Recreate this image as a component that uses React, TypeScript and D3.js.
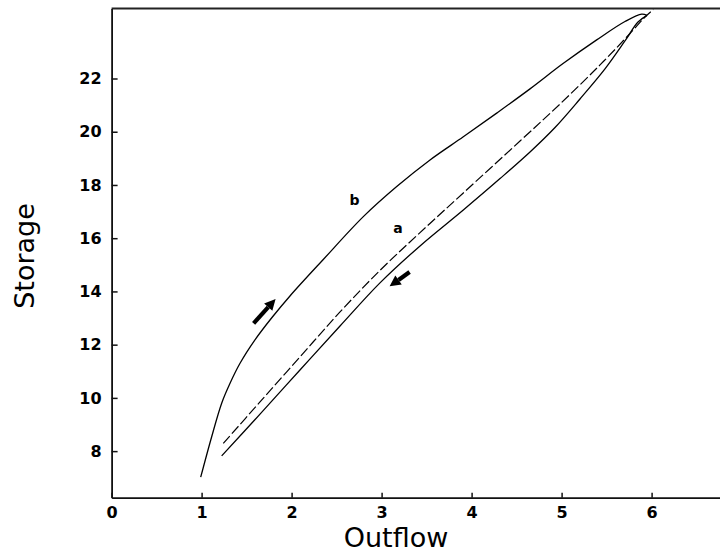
import React, { useEffect, useRef } from "react";
import * as d3 from "d3";

const width = 720;
const height = 555;

// axis ticks
const xTicks = [0, 1, 2, 3, 4, 5, 6];
const yTicks = [8, 10, 12, 14, 16, 18, 20, 22];

// rising limb (b)
const risingX = [0.99, 1.112, 1.223, 1.316, 1.427, 1.593, 1.782, 1.982, 2.352, 2.797, 3.168, 3.538, 3.908, 4.279, 4.649, 5.016, 5.39, 5.704, 5.89, 5.949];
const risingY = [7.02, 8.54, 9.8, 10.55, 11.3, 12.18, 13.02, 13.83, 15.2, 16.81, 17.94, 18.94, 19.81, 20.7, 21.61, 22.56, 23.45, 24.14, 24.42, 24.37];

// falling limb
const fallingX = [5.949, 5.849, 5.704, 5.482, 5.204, 4.927, 4.649, 4.316, 3.908, 3.427, 2.982, 2.538, 2.093, 1.649, 1.223];
const fallingY = [24.37, 24.12, 23.41, 22.36, 21.23, 20.16, 19.24, 18.24, 17.06, 15.71, 14.32, 12.7, 11.05, 9.39, 7.82];

// curve a (dashed)
const curveAX = [1.241, 1.649, 2.093, 2.538, 2.982, 3.427, 3.908, 4.538, 4.982, 5.427, 5.76, 5.927, 6.019];
const curveAY = [8.29, 9.85, 11.54, 13.23, 14.79, 16.21, 17.7, 19.65, 21.04, 22.51, 23.69, 24.31, 24.59];

// curve labels
const labelText = ["b", "a"];
const labelX = [2.7, 3.181];
const labelY = [17.43, 16.37];

// arrows: from -> to
const arrowFromX = [1.578, 3.311];
const arrowFromY = [12.8, 14.73];
const arrowToX = [1.822, 3.089];
const arrowToY = [13.72, 14.19];

const x = d3.scaleLinear().domain([0, 6.76]).range([111.6, 720]);
const y = d3.scaleLinear().domain([6.25, 24.63]).range([497.7, 8.5]);

const line = d3
  .line<[number, number]>()
  .x((d) => x(d[0]))
  .y((d) => y(d[1]))
  .curve(d3.curveCatmullRom.alpha(0.5));

function zip(xs: number[], ys: number[]): [number, number][] {
  return xs.map((v, i) => [v, ys[i]]);
}

function arrowPath(i: number) {
  const x0 = x(arrowFromX[i]), y0 = y(arrowFromY[i]);
  const x1 = x(arrowToX[i]), y1 = y(arrowToY[i]);
  const len = Math.hypot(x1 - x0, y1 - y0);
  const ux = (x1 - x0) / len, uy = (y1 - y0) / len;
  const headLen = 11, half = 5.5;
  const bx = x1 - ux * headLen, by = y1 - uy * headLen;
  const head = `M${x1},${y1}L${bx - uy * half},${by + ux * half}L${bx + uy * half},${by - ux * half}Z`;
  const shaft = `M${x0},${y0}L${bx},${by}`;
  return { head, shaft };
}

export default function App() {
  const xAxisRef = useRef<SVGGElement>(null);
  const yAxisRef = useRef<SVGGElement>(null);

  useEffect(() => {
    const gx = d3.select(xAxisRef.current!);
    gx.call(
      d3.axisBottom(x).tickValues(xTicks).tickFormat(d3.format("d")).tickSizeInner(-5).tickSizeOuter(0).tickPadding(8.5)
    );
    const gy = d3.select(yAxisRef.current!);
    gy.call(
      d3.axisLeft(y).tickValues(yTicks).tickFormat(d3.format("d")).tickSizeInner(-6).tickSizeOuter(0).tickPadding(10)
    );
    [gx, gy].forEach((g) => {
      g.selectAll("path.domain").attr("stroke", "#111").attr("stroke-width", 1.8);
      g.selectAll(".tick line").attr("stroke", "#111").attr("stroke-width", 1.5);
      g.selectAll(".tick text")
        .attr("fill", "#000")
        .attr("font-family", "DejaVu Sans")
        .attr("font-weight", "bold")
        .attr("font-size", 16);
    });
  }, []);

  return (
    <svg
      width={width}
      height={height}
      style={{ position: "absolute", left: 0, top: 0, background: "#fff" }}
    >
      <rect width={width} height={height} fill="#fff" />
      {/* top border */}
      <line x1={x(0)} x2={width} y1={y.range()[1]} y2={y.range()[1]} stroke="#222" strokeWidth={1.8} />
      <g ref={xAxisRef} transform={`translate(0,${y.range()[0]})`} />
      <g ref={yAxisRef} transform={`translate(${x(0)},0)`} />

      <path d={line(zip(risingX, risingY)) || ""} fill="none" stroke="#000" strokeWidth={1.3} />
      <path d={line(zip(fallingX, fallingY)) || ""} fill="none" stroke="#000" strokeWidth={1.3} />
      <path
        d={line(zip(curveAX, curveAY)) || ""}
        fill="none"
        stroke="#000"
        strokeWidth={1.2}
        strokeDasharray="10 3"
      />

      {arrowFromX.map((_, i) => {
        const a = arrowPath(i);
        return (
          <g key={i}>
            <path d={a.shaft} stroke="#000" strokeWidth={4.2} />
            <path d={a.head} fill="#000" />
          </g>
        );
      })}

      {labelText.map((t, i) => (
        <text
          key={t}
          x={x(labelX[i])}
          y={y(labelY[i])}
          dy="0.35em"
          textAnchor="middle"
          fontFamily="DejaVu Sans"
          fontWeight="bold"
          fontSize={14}
        >
          {t}
        </text>
      ))}

      <text x={396} y={547} textAnchor="middle" fontFamily="DejaVu Sans" fontSize={27}>
        Outflow
      </text>
      <text
        transform={`translate(34,256) rotate(-90)`}
        textAnchor="middle"
        fontFamily="DejaVu Sans"
        fontSize={27}
      >
        Storage
      </text>
    </svg>
  );
}
